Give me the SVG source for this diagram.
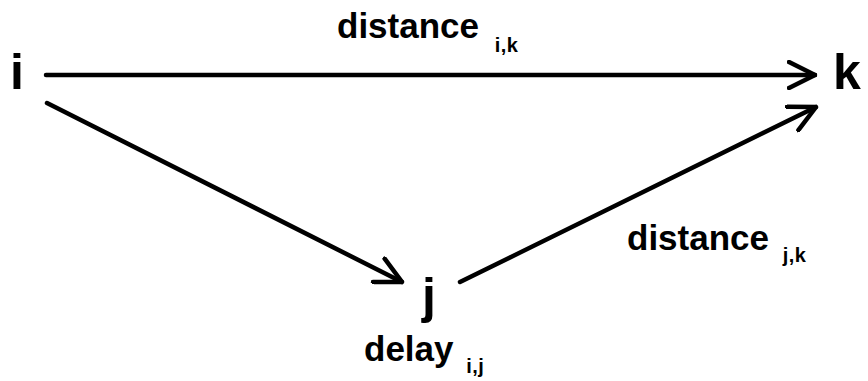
<svg xmlns="http://www.w3.org/2000/svg" width="868" height="381" viewBox="0 0 868 381">
<defs>
<style>
.node{font-family:"Liberation Sans",Arial,sans-serif;font-weight:bold;font-size:50px;fill:#000}
.lbl{font-family:"Liberation Sans",Arial,sans-serif;font-weight:bold;font-size:35px;fill:#000}
.sub{font-size:20px;letter-spacing:0.5px}
.edge{stroke:#000;stroke-width:4.5;fill:none;stroke-linecap:round;stroke-linejoin:round}
</style>
<marker id="ah" viewBox="0 0 30 30" refX="28" refY="15" markerWidth="30" markerHeight="30" markerUnits="userSpaceOnUse" orient="auto">
<path d="M2,2 L28,15 L2,28" fill="none" stroke="#000" stroke-width="4.5" stroke-linecap="round" stroke-linejoin="miter"/>
</marker>
</defs>
<rect width="868" height="381" fill="#fff"/>
<g id="connectors">
<path class="edge" d="M46,75 L815,75" marker-end="url(#ah)"/>
<path class="edge" d="M47,103 L402,282" marker-end="url(#ah)"/>
<path class="edge" d="M460,282 L816,107" marker-end="url(#ah)"/>
</g>
<g id="node-i"><text class="node" x="10" y="89">i</text></g>
<g id="node-k"><text class="node" x="833" y="89">k</text></g>
<g id="node-j"><text class="node" x="422" y="313">j</text></g>
<g id="label-distance-ik"><text class="lbl" x="337" y="38">distance <tspan class="sub" dx="6" dy="14">i,k</tspan></text></g>
<g id="label-distance-jk"><text class="lbl" x="627" y="250">distance <tspan class="sub" dx="4" dy="12">j,k</tspan></text></g>
<g id="label-delay-ij"><text class="lbl" x="364" y="361">delay <tspan class="sub" dx="3" dy="12">i,j</tspan></text></g>
</svg>
